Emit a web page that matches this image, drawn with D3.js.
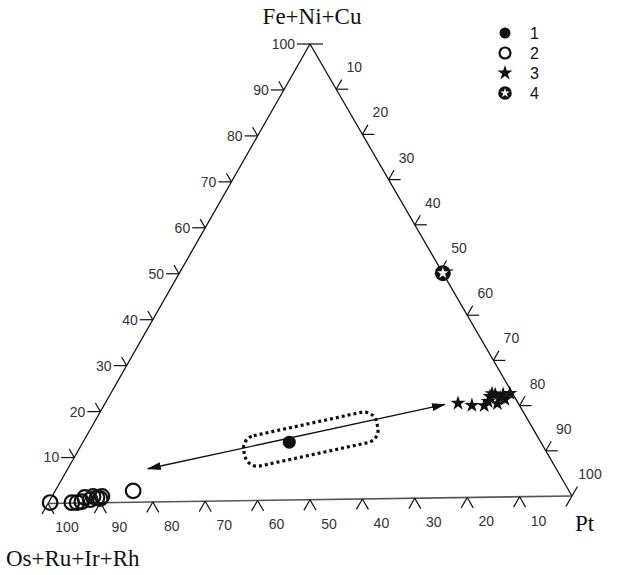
<!DOCTYPE html>
<html>
<head>
<meta charset="utf-8">
<script src="https://cdnjs.cloudflare.com/ajax/libs/d3/7.8.5/d3.min.js"></script>
<style>
  body { margin: 0; background: #fff; }
  svg { display: block; }
  .tick-label { font-family: "Liberation Sans", Arial, sans-serif; font-size: 14px; fill: #333; }
  .legend-label { font-family: "Liberation Sans", Arial, sans-serif; font-size: 16px; fill: #111; }
  .title { font-family: "Liberation Serif", "Times New Roman", serif; font-size: 23px; fill: #111; }
</style>
</head>
<body>
<svg id="chart" width="618" height="575"></svg>
<script>
// each point is [Os+Ru+Ir+Rh, Fe+Ni+Cu, Pt] in %
var group1 = [[47.6, 12.7, 39.7]];
var group2 = [
  [99.5, 0.2, 0.3], [95.4, 0.1, 4.5], [94.4, 0.1, 5.5], [93.4, 0.3, 6.3],
  [92.4, 1.2, 6.4], [91.6, 0.7, 7.7], [90.7, 1.4, 7.9], [90.1, 1.1, 8.8],
  [89.6, 0.9, 9.5], [89.0, 1.4, 9.6], [82.5, 2.5, 15.0]
];
var group3 = [
  [11.4, 20.7, 67.9], [9.0, 20.2, 70.8], [6.7, 20.1, 73.2], [4.6, 22.1, 73.3],
  [3.4, 22.5, 74.1], [2.8, 21.8, 75.4], [2.1, 21.4, 76.5], [0.5, 22.7, 76.8],
  [4.0, 20.5, 75.5], [5.5, 21.0, 73.5], [1.9, 22.5, 75.6], [3.9, 22.7, 73.4]
];
var group4 = [[0, 49.3, 50.7]];
var legendLabels = ['1', '2', '3', '4'];
var tickValues = [10, 20, 30, 40, 50, 60, 70, 80, 90, 100];
var axisTitles = ['Fe+Ni+Cu', 'Os+Ru+Ir+Rh', 'Pt'];
// double arrow and the dotted box round group 1
var arrowEnds = [[77.3, 7.3, 15.4], [14.0, 20.5, 65.5]];
var boxCenter = [43.2, 13.3, 43.5];

// triangle corners in pixels
var L = [48, 503.5], T = [310, 44], R = [572, 496];

var svg = d3.select('#chart');

// one scale per edge, d3 interpolates the [x, y] pairs
var feEdge = d3.scaleLinear().domain([0, 100]).range([L, T]);
var ptEdge = d3.scaleLinear().domain([0, 100]).range([T, R]);
var osEdge = d3.scaleLinear().domain([0, 100]).range([R, L]);

function project(d) {
  var s = d[0] + d[1] + d[2];
  var a = d[0] / s, b = d[1] / s, c = d[2] / s;
  return [a * L[0] + b * T[0] + c * R[0], a * L[1] + b * T[1] + c * R[1]];
}

function seg(g, p, dx, dy) {
  g.append('line')
    .attr('x1', p[0]).attr('y1', p[1])
    .attr('x2', p[0] + dx).attr('y2', p[1] + dy)
    .attr('stroke', '#111').attr('stroke-width', 1.2);
}

var axes = svg.append('g');

// triangle outline
axes.append('path')
  .attr('d', 'M' + L + 'L' + T + 'L' + R)
  .attr('fill', 'none').attr('stroke', '#111').attr('stroke-width', 1.3);
axes.append('path')
  .attr('d', 'M' + L + 'L' + R)
  .attr('fill', 'none').attr('stroke', '#555').attr('stroke-width', 1.6);

var S = 0.866;

// left edge ticks (Fe+Ni+Cu)
tickValues.forEach(function(v) {
  var p = feEdge(v);
  seg(axes, p, -13, 0);
  if (v < 100) seg(axes, p, -0.5 * 10, -S * 10);
  else seg(axes, p, 13, 0);
  axes.append('text').attr('class', 'tick-label')
    .attr('x', p[0] - 15).attr('y', p[1]).attr('dy', '0.35em')
    .attr('text-anchor', 'end').text(v);
});

// right edge ticks (Pt)
tickValues.forEach(function(v) {
  var p = ptEdge(v);
  if (v < 100) seg(axes, p, 12, 0);
  seg(axes, p, 0.5 * 11, -S * 11);
  axes.append('text').attr('class', 'tick-label')
    .attr('x', p[0] + 18).attr('y', p[1] - 22).attr('dy', '0.35em')
    .attr('text-anchor', 'middle').text(v);
});

// bottom edge ticks (Os+Ru+Ir+Rh)
[0].concat(tickValues).forEach(function(v) {
  var p = osEdge(v);
  seg(axes, p, -0.5 * 12, S * 12);
  if (v > 0) seg(axes, p, 0.5 * 12, S * 12);
  if (v > 0) {
    axes.append('text').attr('class', 'tick-label')
      .attr('x', p[0] + 19).attr('y', p[1] + 24).attr('dy', '0.35em')
      .attr('text-anchor', 'middle').text(v);
  }
});

// axis titles
svg.append('text').attr('class', 'title')
  .attr('x', 312).attr('y', 24).attr('text-anchor', 'middle').text(axisTitles[0]);
svg.append('text').attr('class', 'title')
  .attr('x', 6).attr('y', 566).text(axisTitles[1]);
svg.append('text').attr('class', 'title')
  .attr('x', 575).attr('y', 531).text(axisTitles[2]);

// arrow between the two fields
var defs = svg.append('defs');
defs.append('marker')
  .attr('id', 'head')
  .attr('viewBox', '0 0 14 8')
  .attr('refX', 13).attr('refY', 4)
  .attr('markerWidth', 14).attr('markerHeight', 8)
  .attr('markerUnits', 'userSpaceOnUse')
  .attr('orient', 'auto-start-reverse')
  .append('path').attr('d', 'M0,0L14,4L0,8Z').attr('fill', '#111');

var a0 = project(arrowEnds[0]), a1 = project(arrowEnds[1]);
svg.append('line')
  .attr('x1', a0[0]).attr('y1', a0[1]).attr('x2', a1[0]).attr('y2', a1[1])
  .attr('stroke', '#111').attr('stroke-width', 1.4)
  .attr('marker-start', 'url(#head)').attr('marker-end', 'url(#head)');

var angle = Math.atan2(a1[1] - a0[1], a1[0] - a0[0]) * 180 / Math.PI;
var bc = project(boxCenter);
svg.append('rect')
  .attr('transform', 'translate(' + bc + ') rotate(' + angle + ')')
  .attr('x', -68).attr('y', -15.5).attr('width', 136).attr('height', 31)
  .attr('rx', 13)
  .attr('fill', 'none').attr('stroke', '#111')
  .attr('stroke-width', 3.2).attr('stroke-dasharray', '3 3');

// symbols
var starPath = d3.symbol().type(d3.symbolStar).size(70)();
var smallStar = d3.symbol().type(d3.symbolStar).size(40)();

function drawSymbol(g, kind) {
  if (kind === 0) {
    g.append('circle').attr('r', 6.5).attr('fill', '#111');
  } else if (kind === 1) {
    g.append('circle').attr('r', 7.3).attr('fill', 'none')
      .attr('stroke', '#111').attr('stroke-width', 2.2);
  } else if (kind === 2) {
    g.append('path').attr('d', starPath).attr('fill', '#111');
  } else {
    g.append('circle').attr('r', 8).attr('fill', '#111');
    g.append('path').attr('d', smallStar).attr('fill', '#fff');
  }
}

[group2, group1, group3, group4].forEach(function(group, gi) {
  var kind = [1, 0, 2, 3][gi];
  svg.append('g').selectAll('g')
    .data(group)
    .join('g')
    .attr('transform', function(d) { return 'translate(' + project(d) + ')'; })
    .each(function() { drawSymbol(d3.select(this), kind); });
});

// legend
var legend = svg.append('g').attr('transform', 'translate(505,33)');
legendLabels.forEach(function(lab, i) {
  var row = legend.append('g').attr('transform', 'translate(0,' + (i * 20) + ')');
  var sym = row.append('g');
  drawSymbol(sym, i);
  if (i === 0) sym.select('circle').attr('r', 5.5);
  if (i === 1) sym.select('circle').attr('r', 5.5);
  if (i === 3) sym.attr('transform', 'scale(0.85)');
  row.append('text').attr('class', 'legend-label')
    .attr('x', 25).attr('y', 0).attr('dy', '0.35em').text(lab);
});
</script>
</body>
</html>
